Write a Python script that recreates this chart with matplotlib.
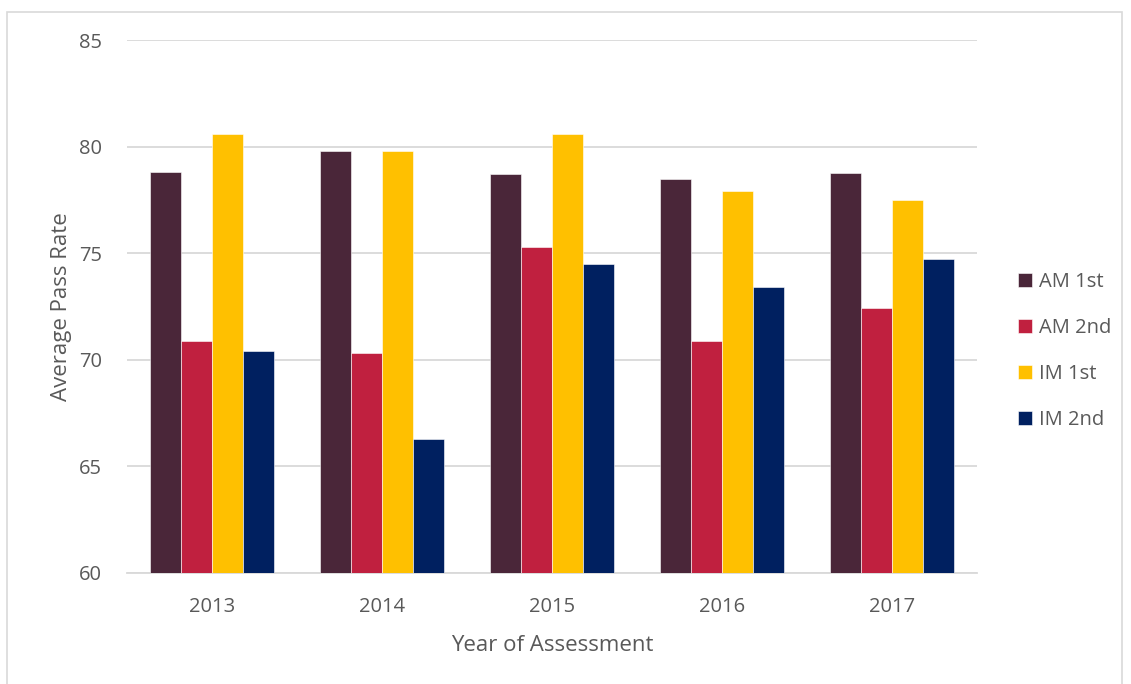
import numpy as np
import matplotlib.pyplot as plt
import matplotlib.patches as mpatches

# ─── Data ─────────────────────────────────────────────────────────────────────
years  = ["2013", "2014", "2015", "2016", "2017"]
am_1st = [78.8, 79.8, 78.7, 78.5, 78.75]
am_2nd = [70.9, 70.3, 75.3, 70.9, 72.45]
im_1st = [80.6, 79.8, 80.6, 77.9, 77.5]
im_2nd = [70.4, 66.3, 74.5, 73.4, 74.75]

series_names = ["AM 1st", "AM 2nd", "IM 1st", "IM 2nd"]
series_vals  = [am_1st, am_2nd, im_1st, im_2nd]
COLORS = ["#4A2639", "#C0203F", "#FFC000", "#002060"]

TEXT_COLOR = "#595959"
GRID_COLOR = "#D9D9D9"
FONT_SIZE  = 14.5

plt.rcParams["font.family"] = ["Open Sans", "DejaVu Sans"]

# ─── Figure ───────────────────────────────────────────────────────────────────
fig = plt.figure(figsize=(11.31, 6.84), dpi=100)
ax = fig.add_axes([127 / 1131, 1 - 573 / 684, 850 / 1131, 533 / 684])

x = np.arange(len(years))
bar_w = 0.181
offsets = (np.arange(4) - 1.5) * bar_w

for vals, name, color, off in zip(series_vals, series_names, COLORS, offsets):
    ax.bar(x + off, np.array(vals) - 60, bottom=60, width=bar_w, color=color,
           edgecolor="white", linewidth=0.4, label=name, zorder=3)

ax.set_xlim(-0.5, len(years) - 0.5)
ax.set_ylim(60, 85)
ax.set_yticks([60, 65, 70, 75, 80, 85])
ax.set_xticks(x)
ax.set_xticklabels(years)
ax.tick_params(axis="both", length=0, labelsize=FONT_SIZE, colors=TEXT_COLOR)
ax.tick_params(axis="y", pad=18)
ax.tick_params(axis="x", pad=17)

ax.grid(axis="y", color=GRID_COLOR, linewidth=1.3, zorder=0)
ax.set_axisbelow(True)
for side in ["top", "right", "left"]:
    ax.spines[side].set_visible(False)
ax.spines["bottom"].set_color(GRID_COLOR)
ax.spines["bottom"].set_linewidth(1.3)

ax.set_xlabel("Year of Assessment", fontsize=FONT_SIZE + 1.5, color=TEXT_COLOR,
              labelpad=13)
ax.set_ylabel("Average Pass Rate", fontsize=FONT_SIZE + 1.5, color=TEXT_COLOR,
              labelpad=5)

# ─── Legend ───────────────────────────────────────────────────────────────────
leg = ax.legend(loc="center left", frameon=False, fontsize=FONT_SIZE,
                handlelength=0.7, handleheight=0.7, handletextpad=0.35,
                labelspacing=1.3, borderaxespad=0, borderpad=0)
for t in leg.get_texts():
    t.set_color(TEXT_COLOR)
leg.set_bbox_to_anchor((1 + (1018 - 977) / 850, (573 - 351) / 533),
                       transform=ax.transAxes)

# ─── Outer chart border ───────────────────────────────────────────────────────
border = mpatches.Rectangle((7 / 1131, -0.05), 1115 / 1131, 1 - 12 / 684 + 0.05,
                            transform=fig.transFigure, fill=False,
                            edgecolor="#D9D9D9", linewidth=1.2)
fig.patches.append(border)

fig.savefig("out.png", dpi=100)
